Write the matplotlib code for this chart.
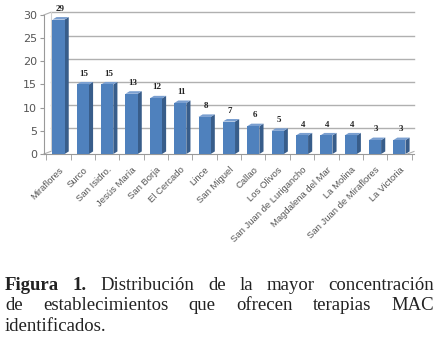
import matplotlib.pyplot as plt
from matplotlib.patches import Polygon
import numpy as np

distritos = ["Miraflores", "Surco", "San Isidro.", "Jesús María", "San Borja",
             "El Cercado", "Lince", "San Miguel", "Callao", "Los Olivos",
             "San Juan de Lurigancho", "Magdalena del Mar", "La Molina",
             "San Juan de Miraflores", "La Victoria"]
cantidad = [29, 15, 15, 13, 12, 11, 8, 7, 6, 5, 4, 4, 4, 3, 3]
y_ticks = [0, 5, 10, 15, 20, 25, 30]

front = '#4f81bd'
side = '#385d8a'
top_c = '#7a9fd0'

fig = plt.figure(figsize=(4.39, 3.40), dpi=100)
ax = fig.add_axes([0.10, 0.547, 0.843, 0.409])
n = len(cantidad)
xs = np.arange(n)
ax.set_xlim(-0.6, n - 0.4)
ax.set_ylim(0, 30)

## depth offset of the 3D look
dx, dy = 0.17, 0.55
w = 0.25

## back wall gridlines
for t in y_ticks[1:]:
    ax.plot([-0.6 + dx * 1.6, n - 0.4], [t + dy, t + dy], color='#b0b0b0', lw=1.0, zorder=0, clip_on=False)
ax.plot([-0.6, -0.6 + dx * 1.6], [30, 30 + dy], color='#b0b0b0', lw=0.8, clip_on=False)
ax.plot([-0.6, -0.6 + dx * 1.6], [0, dy], color='#b0b0b0', lw=0.8, clip_on=False)
ax.plot([-0.6 + dx * 1.6] * 2, [dy, 30 + dy], color='#d0d0d0', lw=0.8, clip_on=False)
ax.plot([n - 0.4 - dx * 1.6, n - 0.4], [0, dy], color='#b0b0b0', lw=0.8, clip_on=False)

for x, v in zip(xs, cantidad):
    ax.add_patch(Polygon([[x + w, 0], [x + w + dx, dy], [x + w + dx, v + dy], [x + w, v]],
                         closed=True, fc=side, ec='none', zorder=3))
    ax.add_patch(Polygon([[x - w, v], [x - w + dx, v + dy], [x + w + dx, v + dy], [x + w, v]],
                         closed=True, fc=top_c, ec='none', zorder=3))
    ax.bar(x, v, width=2 * w, color=front, zorder=4)
    ax.text(x + 0.05, v + 1.5, str(v), ha='center', va='bottom', fontsize=6.5,
            fontweight='bold', family='Liberation Serif', color='#222222')

ax.set_yticks(y_ticks)
ax.set_xticks(xs)
ax.set_xticklabels(distritos, rotation=45, ha='right', rotation_mode='anchor',
                   fontsize=6.8, family='Liberation Sans', color='#555555')
ax.set_xticks(np.arange(-0.5, n, 1), minor=True)
ax.tick_params(axis='x', which='major', length=0, pad=8)
ax.tick_params(axis='x', which='minor', length=4, color='#999999')
ax.tick_params(axis='y', length=3, color='#999999', labelsize=8, labelcolor='#555555', pad=2)
for s in ['top', 'right']:
    ax.spines[s].set_visible(False)
ax.spines['left'].set_color('#999999')
ax.spines['bottom'].set_color('#999999')

## justified caption
fig.canvas.draw()
r = fig.canvas.get_renderer()
x0, x1 = 5 / 439, 434 / 439
lines = [
    [("Figura", 'bold'), ("1.", 'bold'), ("Distribución", 'normal'), ("de", 'normal'), ("la", 'normal'),
     ("mayor", 'normal'), ("concentración", 'normal')],
    [(wd, 'normal') for wd in "de establecimientos que ofrecen terapias MAC".split()],
    [("identificados.", 'normal')],
]
ys = [1 - 290 / 340, 1 - 310.5 / 340, 1 - 331 / 340]
for i, (line, yy) in enumerate(zip(lines, ys)):
    texts = [fig.text(0, yy, wd, fontsize=13.5, fontweight=fw, family='Liberation Serif',
                      va='baseline', color='#222222') for wd, fw in line]
    widths = [t.get_window_extent(r).width / fig.bbox.width for t in texts]
    if i < len(lines) - 1:
        gap = (x1 - x0 - sum(widths)) / (len(texts) - 1)
    else:
        gap = 0.01
    pos = x0
    for t, wdt in zip(texts, widths):
        t.set_x(pos)
        pos += wdt + gap

fig.savefig('out.png', dpi=100)
